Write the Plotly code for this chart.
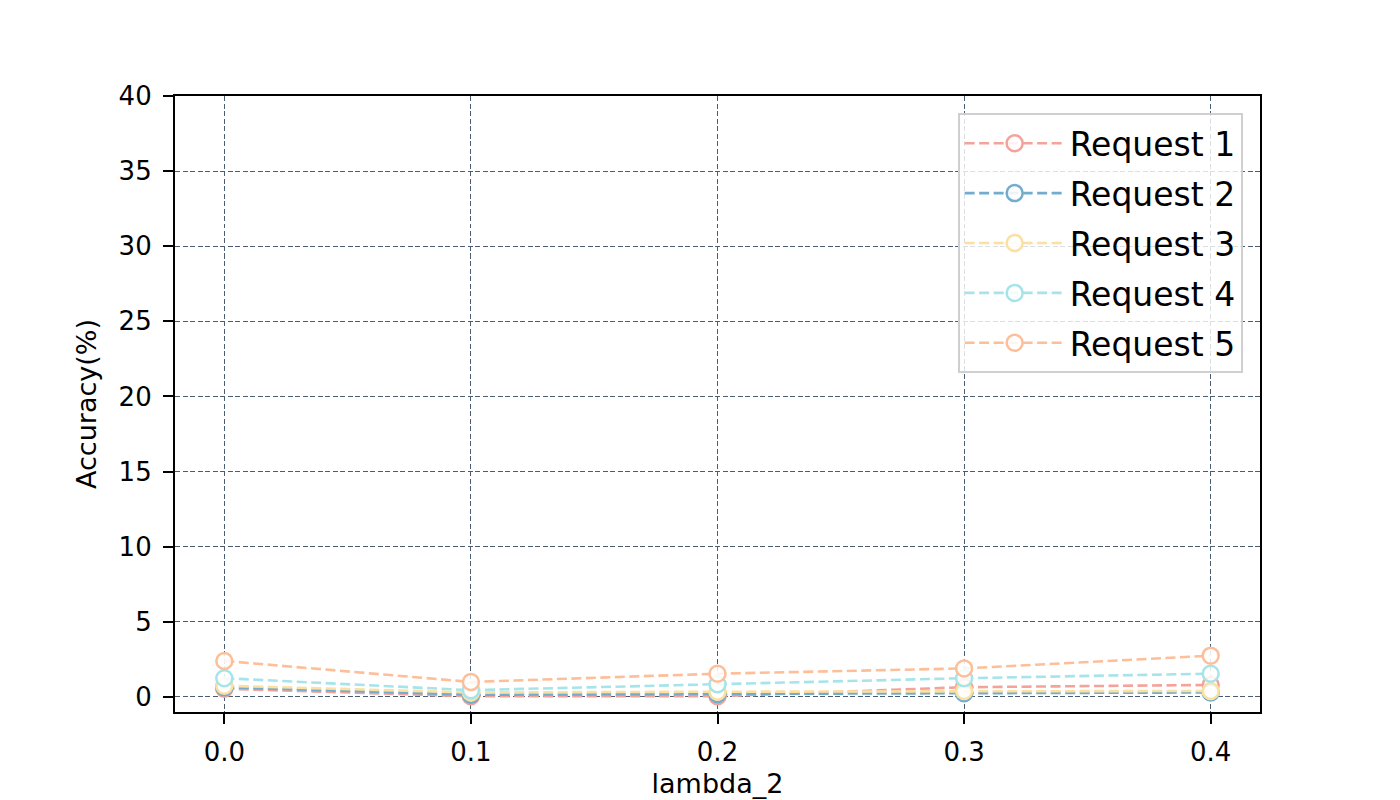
import plotly.graph_objects as go

lambda_2 = [0.0, 0.1, 0.2, 0.3, 0.4]
request_names = ["Request 1", "Request 2", "Request 3", "Request 4", "Request 5"]
request_1 = [0.55, 0.05, 0.05, 0.65, 0.8]
request_2 = [0.65, 0.15, 0.2, 0.25, 0.3]
request_3 = [0.75, 0.3, 0.35, 0.4, 0.4]
request_4 = [1.25, 0.45, 0.85, 1.25, 1.55]
request_5 = [2.4, 1.0, 1.55, 1.9, 2.75]
colors = ["#F4A29A", "#72ADCF", "#FCE0A0", "#A6E4EA", "#FDBE98"]

fig = go.Figure()
for i, (name, vals) in enumerate(zip(request_names,
                                     [request_1, request_2, request_3, request_4, request_5])):
    fig.add_trace(go.Scatter(
        x=lambda_2, y=vals, name=name, mode="lines+markers",
        legendgroup=name,
        line=dict(color=colors[i], width=2.6, dash="10px,4.5px"),
        marker=dict(symbol="circle", size=16, color="rgba(255,255,255,0.85)",
                    line=dict(color=colors[i], width=2.5)),
    ))

axis_common = dict(
    showline=True, mirror=True, linecolor="black", linewidth=2.2,
    ticks="outside", ticklen=10, tickwidth=2.2, tickcolor="black",
    ticklabelstandoff=6,
    showgrid=True, gridcolor="#4a5d72", griddash="5px,2.5px", gridwidth=1.4,
    zeroline=False, tickfont=dict(size=26, color="black"),
)

fig.update_layout(
    width=1400, height=800,
    paper_bgcolor="white", plot_bgcolor="white",
    margin=dict(l=167, r=148, t=88, b=96),
    font=dict(family="DejaVu Sans", color="black"),
    xaxis=dict(axis_common, range=[-0.02, 0.42], tickvals=lambda_2,
               ticktext=["0.0", "0.1", "0.2", "0.3", "0.4"],
               title=dict(text="lambda_2", font=dict(size=27), standoff=8)),
    yaxis=dict(axis_common, range=[-1, 40], tickvals=list(range(0, 41, 5)),
               title=dict(text="Accuracy(%)", font=dict(size=27), standoff=14)),
    legend=dict(x=0.984, y=0.972, xanchor="right", yanchor="top",
                bgcolor="rgba(255,255,255,0.8)", bordercolor="#cfcfcf", borderwidth=2,
                font=dict(size=33), tracegroupgap=4, itemwidth=100),
    showlegend=True,
)

fig.write_html("out.html")
